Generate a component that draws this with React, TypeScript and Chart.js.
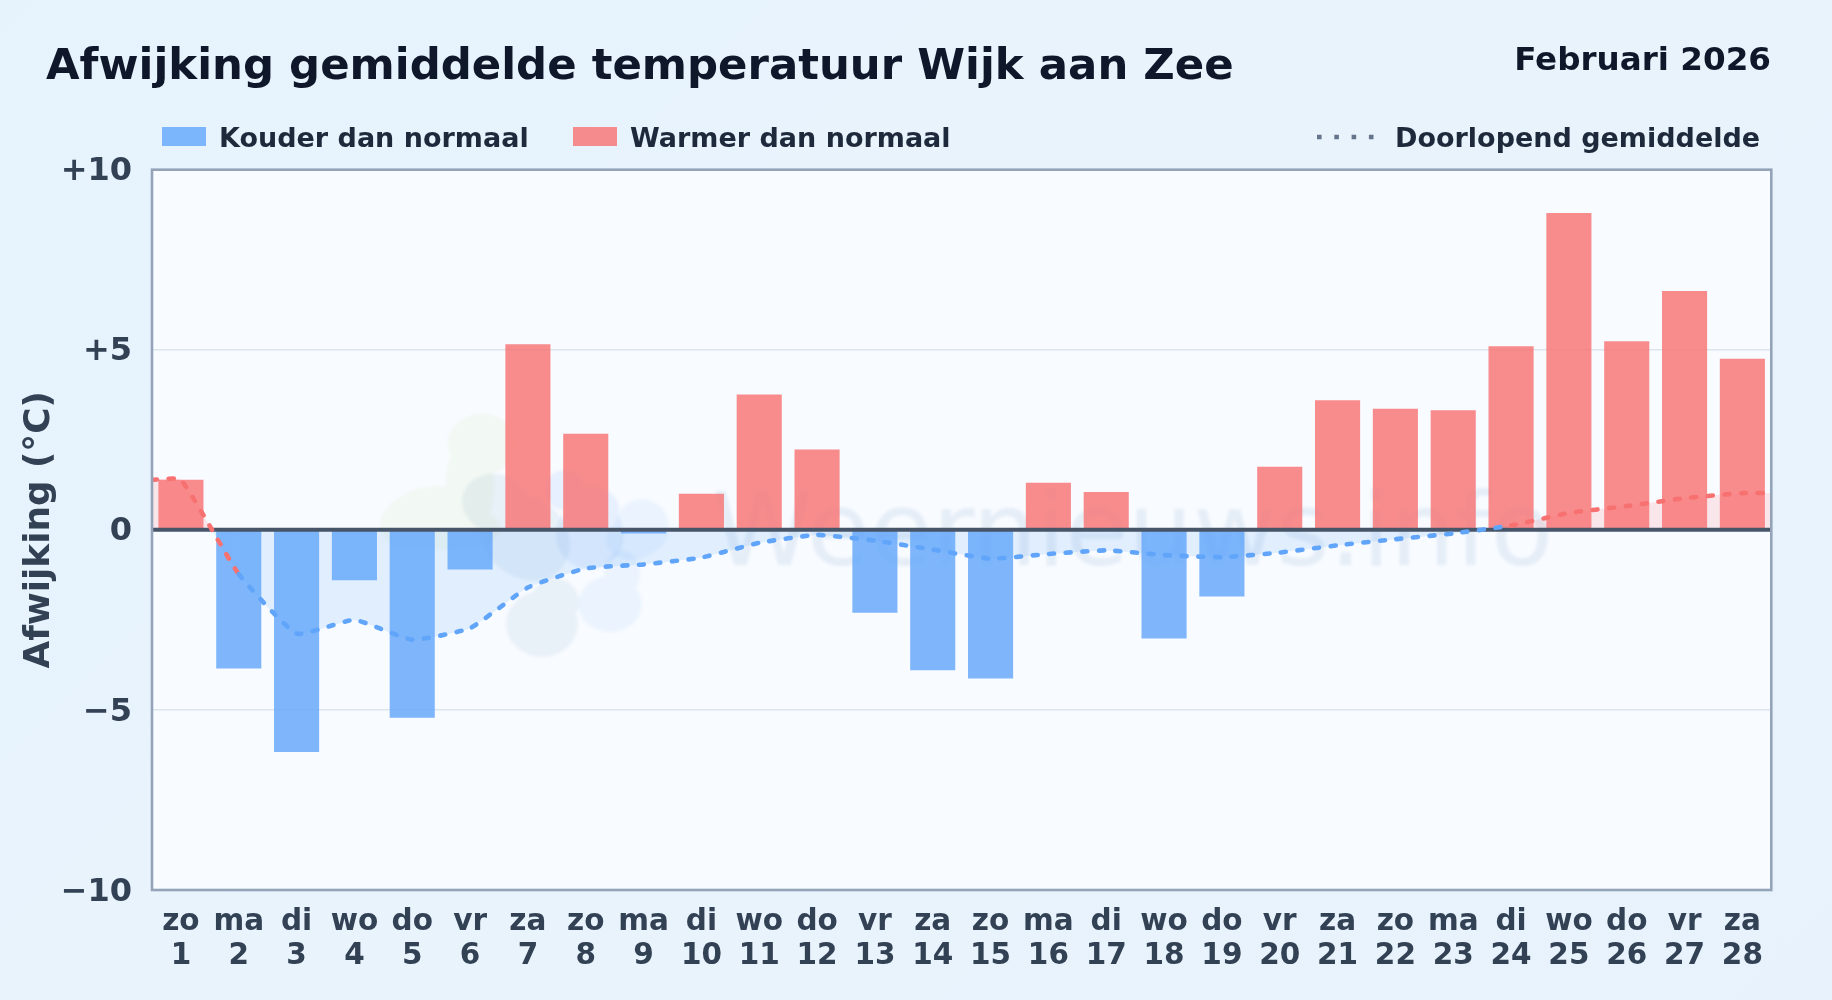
import React, { useEffect, useRef } from "react";
import { Chart, registerables } from "chart.js";

Chart.register(...registerables);

const weekdays = ["zo","ma","di","wo","do","vr","za","zo","ma","di","wo","do","vr","za","zo","ma","di","wo","do","vr","za","zo","ma","di","wo","do","vr","za"];
const days = ["1","2","3","4","5","6","7","8","9","10","11","12","13","14","15","16","17","18","19","20","21","22","23","24","25","26","27","28"];
const deviations = [1.39,-3.85,-6.17,-1.4,-5.22,-1.1,5.15,2.67,-0.1,1.0,3.76,2.23,-2.3,-3.9,-4.13,1.31,1.05,-3.02,-1.85,1.75,3.6,3.36,3.32,5.1,8.8,5.24,6.63,4.75];
const runningAverage = [1.39,-1.23,-2.88,-2.5,-3.05,-2.73,-1.6,-1.07,-0.96,-0.77,-0.36,-0.14,-0.3,-0.55,-0.8,-0.67,-0.57,-0.7,-0.76,-0.63,-0.43,-0.26,-0.1,0.12,0.47,0.66,0.88,1.02];
const yTicks = [-10,-5,0,5,10];

const FONT = "'DejaVu Sans'";
const BLUE = "#60a5fa";
const RED = "#f87171";

// Decorative watermark logo: lobes in page pixels [cx, cy, rx, ry, rotation]
const logoShapes: { color: string; lobes: number[][] }[] = [
  { color: "rgba(132,204,22,0.05)", lobes: [[482,444,34,30,0],[470,485,24,48,0],[425,518,46,30,-0.3],[450,528,50,22,0]] },
  { color: "rgba(40,110,160,0.075)", lobes: [[495,503,33,29,0.2],[525,537,48,40,0.7]] },
  { color: "rgba(40,110,160,0.07)", lobes: [[542,624,36,33,0],[555,602,24,24,0]] },
  { color: "rgba(59,150,240,0.065)", lobes: [[610,604,32,28,0],[622,574,18,24,0]] },
  { color: "rgba(59,130,246,0.085)", lobes: [[590,535,34,34,0],[565,490,20,20,0],[596,505,24,18,0.4]] },
  { color: "rgba(59,150,240,0.065)", lobes: [[642,527,27,28,0],[632,540,26,20,0]] },
];

const decor = {
  id: "decor",
  beforeDraw(chart: any) {
    const { ctx, chartArea: a } = chart;
    ctx.save();
    ctx.fillStyle = "#f8fbff";
    ctx.fillRect(a.left, a.top, a.right - a.left, a.bottom - a.top);
    ctx.filter = "blur(1.5px)";
    for (const s of logoShapes) {
      ctx.fillStyle = s.color;
      ctx.beginPath();
      for (const l of s.lobes) {
        ctx.moveTo(l[0] + l[2] * Math.cos(l[4]), l[1] + l[2] * Math.sin(l[4]));
        ctx.ellipse(l[0], l[1], l[2], l[3], l[4], 0, Math.PI * 2);
      }
      ctx.fill();
    }
    ctx.fillStyle = "rgba(48,111,175,0.095)";
    ctx.font = `102px ${FONT}`;
    ctx.textAlign = "left";
    ctx.textBaseline = "alphabetic";
    ctx.fillText("Weernieuws.info", 712, 565);
    ctx.restore();
  },
  afterDraw(chart: any) {
    const { ctx, chartArea: a } = chart;
    ctx.save();
    ctx.strokeStyle = "#94a3b8";
    ctx.lineWidth = 2.6;
    ctx.strokeRect(a.left, a.top, a.right - a.left, a.bottom - a.top);
    ctx.restore();
  },
};

const legendText: React.CSSProperties = {
  position: "absolute",
  top: 124,
  font: `bold 27px/1 ${FONT}`,
  color: "#1e293b",
  whiteSpace: "nowrap",
};
const swatch = (left: number, background: string): React.CSSProperties => ({
  position: "absolute",
  left,
  top: 127,
  width: 44,
  height: 19,
  background,
});

export default function App() {
  const ref = useRef<HTMLCanvasElement>(null);

  useEffect(() => {
    document.body.style.margin = "0";
    const avgPoints = [
      { x: 0.5, y: runningAverage[0] },
      ...runningAverage.map((y, i) => ({ x: i + 1, y })),
      { x: 28.5, y: runningAverage[runningAverage.length - 1] },
    ];
    const chart = new Chart(ref.current!, {
      type: "bar",
      data: {
        labels: weekdays.map((w, i) => [w, days[i]]),
        datasets: [
          {
            type: "bar",
            label: "Afwijking",
            data: deviations,
            order: 3,
            backgroundColor: deviations.map((v) => (v < 0 ? "rgba(96,165,250,0.8)" : "rgba(248,113,113,0.8)")),
            borderWidth: 0,
            barPercentage: 0.78,
            categoryPercentage: 1,
            grouped: false,
            xAxisID: "x",
            yAxisID: "y",
          },
          {
            type: "line",
            label: "Nul",
            data: [{ x: 0.5, y: 0 }, { x: 28.5, y: 0 }],
            order: 2,
            borderColor: "#475569",
            borderWidth: 4,
            pointRadius: 0,
            xAxisID: "x2",
            yAxisID: "y",
          },
          {
            type: "line",
            label: "Doorlopend gemiddelde",
            data: avgPoints,
            order: 1,
            borderWidth: 4.6,
            borderDash: [5, 11.6],
            borderCapStyle: "round",
            tension: 0.14,
            pointRadius: 0,
            borderColor: BLUE,
            fill: { target: { value: 0 }, above: "rgba(248,113,113,0.15)", below: "rgba(96,165,250,0.15)" },
            segment: {
              borderColor: (c: any) => (c.p0.parsed.y >= 0 ? RED : BLUE),
              borderCapStyle: "round",
              borderWidth: 4.6,
            },
            xAxisID: "x2",
            yAxisID: "y",
          },
        ],
      } as any,
      options: {
        animation: false,
        responsive: false,
        devicePixelRatio: 1,
        layout: { padding: { left: 0, top: 169.7, right: 60.7, bottom: 0 } },
        plugins: {
          legend: { display: false },
          title: { display: false },
          tooltip: { enabled: false },
          filler: { drawTime: "beforeDatasetsDraw" },
        },
        scales: {
          x: {
            type: "category",
            offset: true,
            grid: { display: false, drawTicks: false },
            border: { display: false },
            ticks: {
              color: "#334155",
              font: { family: FONT, weight: "bold", size: 29.5, lineHeight: 1.16 },
              padding: 15,
              maxRotation: 0,
              minRotation: 0,
              autoSkip: false,
            },
            afterFit: (s: any) => { s.height = 110; },
          },
          x2: { type: "linear", min: 0.5, max: 28.5, display: false, offset: false, grid: { offset: false } },
          y: {
            min: -10,
            max: 10,
            afterBuildTicks: (s: any) => {
              s.ticks = yTicks.map((value) => ({ value }));
              if (!s._shifted) {
                s._shifted = true;
                const compute = s._computeLabelItems.bind(s);
                s._computeLabelItems = (area: any) =>
                  compute(area).map((it: any) => ({ ...it, textOffset: it.textOffset + 2.3 }));
              }
            },
            grid: {
              color: (c: any) => (c.tick.value === 5 || c.tick.value === -5 ? "#dde6ee" : "transparent"),
              lineWidth: 1.6,
              drawTicks: false,
            },
            border: { display: false },
            ticks: {
              color: "#334155",
              font: { family: FONT, weight: "bold", size: 32 },
              padding: 20,
              callback: (v: any) => (v > 0 ? `+${v}` : v < 0 ? `\u2212${Math.abs(v)}` : "0"),
            },
            title: {
              display: true,
              text: "Afwijking (°C)",
              color: "#334155",
              font: { family: FONT, weight: "bold", size: 35.8 },
              padding: { top: 18, bottom: 0 },
            },
            afterFit: (s: any) => { s.width = 152; },
          },
        },
      },
      plugins: [decor],
    } as any);
    return () => chart.destroy();
  }, []);

  return (
    <div
      style={{
        position: "relative",
        width: 1832,
        height: 1000,
        overflow: "hidden",
        background: "linear-gradient(135deg,#e6f3fd 0%,#e9f3fc 50%,#e7f2fc 100%)",
      }}
    >
      <canvas ref={ref} width={1832} height={1000} style={{ position: "absolute", left: 0, top: 0 }} />
      <div style={{ position: "absolute", left: 46, top: 43, font: `bold 43.4px/1 ${FONT}`, color: "#0f172a", whiteSpace: "nowrap" }}>
        Afwijking gemiddelde temperatuur Wijk aan Zee
      </div>
      <div style={{ position: "absolute", right: 61, top: 43, font: `bold 32.6px/1 ${FONT}`, color: "#0f172a", whiteSpace: "nowrap" }}>
        Februari 2026
      </div>
      <div style={swatch(162, "rgba(96,165,250,0.8)")} />
      <div style={{ ...legendText, left: 219 }}>Kouder dan normaal</div>
      <div style={swatch(573, "rgba(248,113,113,0.8)")} />
      <div style={{ ...legendText, left: 630 }}>Warmer dan normaal</div>
      <svg width={60} height={10} style={{ position: "absolute", left: 1316, top: 132 }}>
        <line x1={1} y1={5} x2={57.5} y2={5} stroke="#64748b" strokeWidth={4.6} strokeDasharray="4.6 12.7" />
      </svg>
      <div style={{ ...legendText, left: 1395 }}>Doorlopend gemiddelde</div>
    </div>
  );
}
